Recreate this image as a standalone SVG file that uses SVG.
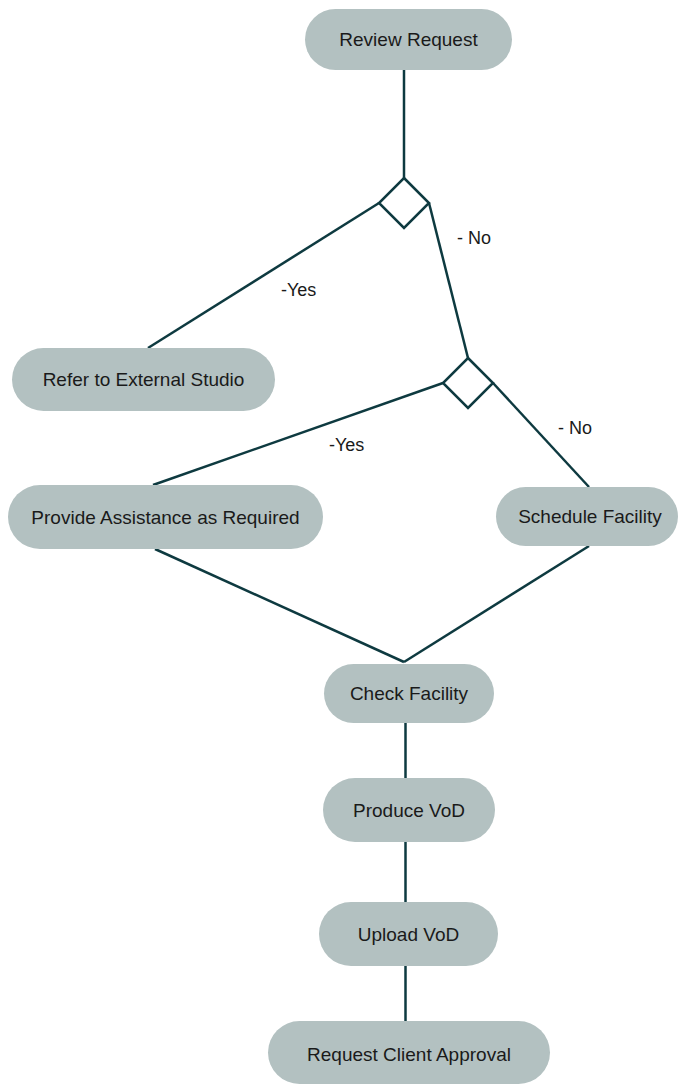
<svg xmlns="http://www.w3.org/2000/svg" width="681" height="1084" viewBox="0 0 681 1084">
<style>
.node rect{fill:#b3c1c1;}
.node text{font-family:"Liberation Sans",Arial,sans-serif;font-size:19px;fill:#1a1a1a;text-anchor:middle;}
.edge{stroke:#0e3a40;stroke-width:2.5;fill:none;}
.diamond{stroke:#0e3a40;stroke-width:2.5;fill:#ffffff;}
.lbl{font-family:"Liberation Sans",Arial,sans-serif;font-size:18px;fill:#1a1a1a;}
</style>
<rect width="681" height="1084" fill="#ffffff"/>
<g id="connectors">
<line class="edge" x1="404" y1="70" x2="404" y2="178"/>
<line class="edge" x1="379" y1="203" x2="148" y2="348"/>
<line class="edge" x1="429" y1="203" x2="468" y2="358"/>
<line class="edge" x1="443" y1="383" x2="153" y2="485"/>
<line class="edge" x1="493" y1="383" x2="589" y2="487"/>
<line class="edge" x1="155" y1="549" x2="404" y2="662"/>
<line class="edge" x1="589" y1="546" x2="404" y2="662"/>
<line class="edge" x1="405.5" y1="723" x2="405.5" y2="778"/>
<line class="edge" x1="405.5" y1="842" x2="405.5" y2="902"/>
<line class="edge" x1="405.5" y1="966" x2="405.5" y2="1021"/>
<text class="lbl" x="457" y="244">- No</text>
<text class="lbl" x="281" y="296">-Yes</text>
<text class="lbl" x="329" y="451">-Yes</text>
<text class="lbl" x="558" y="434">- No</text>
</g>
<g id="decision1"><polygon class="diamond" points="404,178 429,203 404,228 379,203"/></g>
<g id="decision2"><polygon class="diamond" points="468,358 493,383 468,408 443,383"/></g>
<g id="review-request" class="node"><rect x="305" y="9" width="207" height="61" rx="30.5"/><text x="408.5" y="46">Review Request</text></g>
<g id="refer-external" class="node"><rect x="12" y="348" width="263" height="63" rx="31.5"/><text x="143.5" y="386">Refer to External Studio</text></g>
<g id="provide-assistance" class="node"><rect x="8" y="485" width="315" height="64" rx="32"/><text x="165.5" y="524">Provide Assistance as Required</text></g>
<g id="schedule-facility" class="node"><rect x="496" y="487" width="182" height="59" rx="29.5"/><text x="590" y="523">Schedule Facility</text></g>
<g id="check-facility" class="node"><rect x="324" y="664" width="170" height="59" rx="29.5"/><text x="409" y="700">Check Facility</text></g>
<g id="produce-vod" class="node"><rect x="323" y="778" width="172" height="64" rx="32"/><text x="409" y="817">Produce VoD</text></g>
<g id="upload-vod" class="node"><rect x="319" y="902" width="179" height="64" rx="32"/><text x="408.5" y="941">Upload VoD</text></g>
<g id="request-approval" class="node"><rect x="268" y="1021" width="282" height="63" rx="31.5"/><text x="409" y="1061">Request Client Approval</text></g>
</svg>
